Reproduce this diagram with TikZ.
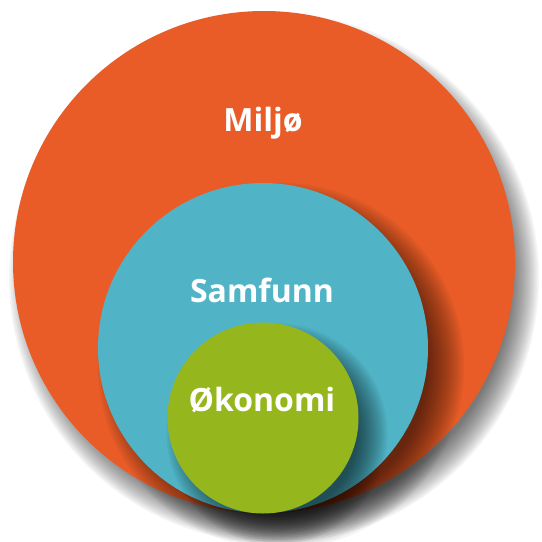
\documentclass[tikz,border=0pt]{standalone}
\usepackage{fontspec}
\setmainfont{Open Sans}
\definecolor{orangeC}{RGB}{233,92,39}
\definecolor{blueC}{RGB}{80,180,198}
\definecolor{greenC}{RGB}{149,182,28}
% #1,#2 centre, #3 radius, #4,#5 offset, #6 blur half-width
\newcommand\softshadow[6]{%
  \foreach \i in {0,...,16}{%
    \pgfmathsetmacro\rr{#3+#6-#6*\i/8}%
    \fill[black,opacity=0.042] (#1+#4,#2+#5) circle (\rr pt);}}
\begin{document}
\begin{tikzpicture}[x=1pt,y=-1pt,
  disc/.style={circle,inner sep=0pt,draw=none},
  lbl/.style={text=white,font=\bfseries\fontsize{32}{32}\selectfont,anchor=base,inner sep=0pt}]
\useasboundingbox (0,0) rectangle (542,542);
\softshadow{264}{262}{251}{10}{16}{14}
\node[disc,fill=orangeC,minimum size=502pt] (miljo) at (264,262) {};
\softshadow{263}{348}{165}{18}{18}{18}
\node[disc,fill=blueC,minimum size=330pt] (samfunn) at (263,348) {};
\softshadow{263}{418}{95.5}{14}{16}{15}
\node[disc,fill=greenC,minimum size=191pt] (okonomi) at (263,418) {};
\node[lbl] (tmiljo) at (263,131) {Miljø};
\node[lbl] (tsamfunn) at (262,302) {Samfunn};
\node[lbl] (tokonomi) at (262,411) {Økonomi};
\end{tikzpicture}
\end{document}
